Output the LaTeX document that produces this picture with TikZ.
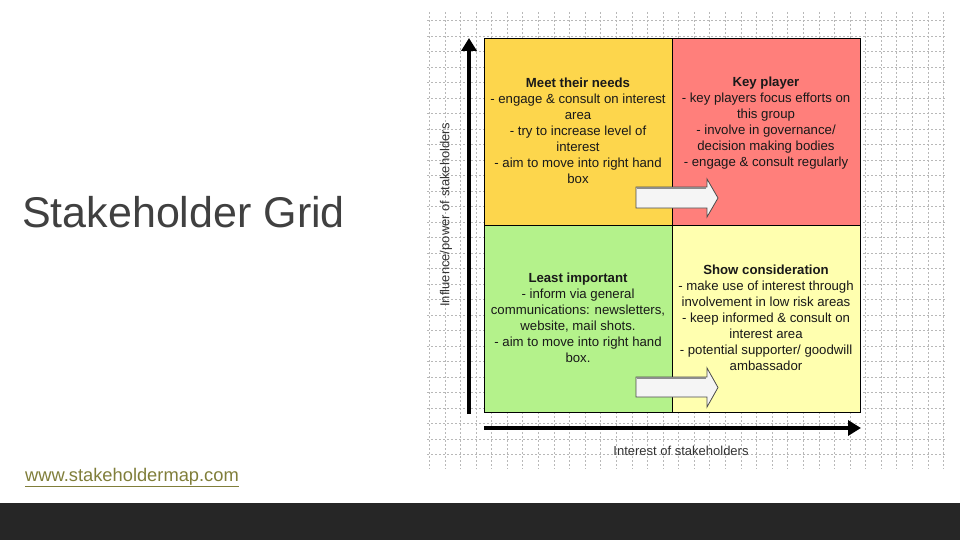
\documentclass[tikz,border=0pt]{standalone}
\usepackage{fontspec}
\setmainfont{Liberation Sans}
\usetikzlibrary{arrows.meta}
\definecolor{needsfill}{RGB}{253,214,76}
\definecolor{keyfill}{RGB}{255,127,123}
\definecolor{leastfill}{RGB}{180,242,139}
\definecolor{showfill}{RGB}{255,255,175}
\definecolor{titlegray}{RGB}{64,64,64}
\definecolor{linkolive}{RGB}{128,126,58}
\definecolor{barfill}{RGB}{38,38,38}
\begin{document}
\begin{tikzpicture}[x=1pt,y=-1pt,
    gridline/.style={draw=black!28,line width=0.6pt,dash pattern=on 2pt off 2pt},
    quad/.style={draw=black,line width=1pt,minimum width=188pt,minimum height=187pt,inner sep=0pt,anchor=north west},
    quadtext/.style={align=center,font=\fontsize{13.2}{16}\selectfont,text=black!90,inner sep=0pt},
    axis/.style={line width=4pt,-{Triangle[length=13pt,width=15pt]}},
    axislabel/.style={font=\fontsize{13}{16}\selectfont,text=black!80,inner sep=0pt},
    blockarrow/.style={fill=white!96!black,draw=black!70,line width=0.8pt,line join=miter}]
    \useasboundingbox (0,0) rectangle (960,540);
    \fill[barfill] (0,503) rectangle (960,540);
    \foreach \i in {0,...,33}
        \draw[gridline] ({429.3+15.58*\i},12) -- ++(0,457);
    \foreach \j in {0,...,28}
        \draw[gridline] (427,{20.5+15.5*\j}) -- ++(518,0);
    \node[font=\fontsize{43}{50}\selectfont,text=titlegray,anchor=base west,inner sep=0pt] (title) at (22,227) {Stakeholder Grid};
    \node[font=\fontsize{18.3}{22}\selectfont,text=linkolive,anchor=base west,inner sep=0pt] (link) at (25,481) {\underline{www.stakeholdermap.com}};
    \node[quad,fill=needsfill] (needs) at (484,38) {};
    \node[quad,fill=keyfill] (key) at (672,38) {};
    \node[quad,fill=leastfill] (least) at (484,225) {};
    \node[quad,fill=showfill] (show) at (672,225) {};
    \filldraw[blockarrow] (636,187) -- (707,187) -- (707,179) -- (718,198) -- (707,217) -- (707,208) -- (636,208) -- cycle;
    \draw[black!45,line width=1.5pt] (637,188) -- (706,188);
    \filldraw[blockarrow] (636,377) -- (707,377) -- (707,368) -- (718,387.5) -- (707,407) -- (707,397) -- (636,397) -- cycle;
    \draw[black!45,line width=1.5pt] (637,378) -- (706,378);
    \node[quadtext] (needsText) at (578,130.5) {\textbf{Meet their needs}\\- engage \& consult on interest\\area\\- try to increase level of\\interest\\- aim to move into right hand\\box};
    \node[quadtext] (keyText) at (766,123) {\textbf{Key player}\\- key players focus efforts on\\this group\\- involve in governance/\\decision making bodies\\- engage \& consult regularly};
    \node[quadtext] (leastText) at (578,317.5) {\textbf{Least important}\\- inform via general\\communications: newsletters,\\website, mail shots.\\- aim to move into right hand\\box.};
    \node[quadtext] (showText) at (766,317.5) {\textbf{Show consideration}\\- make use of interest through\\involvement in low risk areas\\- keep informed \& consult on\\interest area\\- potential supporter/ goodwill\\ambassador};
    \coordinate (yfoot) at (469,414);
    \coordinate (yhead) at (469,38);
    \coordinate (xfoot) at (484,428);
    \coordinate (xhead) at (861,428);
    \draw[axis] (yfoot) -- (yhead);
    \draw[axis] (xfoot) -- (xhead);
    \node[axislabel,rotate=90] (powerLabel) at (446,215) {Influence/power of stakeholders};
    \node[axislabel] (interestLabel) at (681,451) {Interest of stakeholders};
\end{tikzpicture}
\end{document}
